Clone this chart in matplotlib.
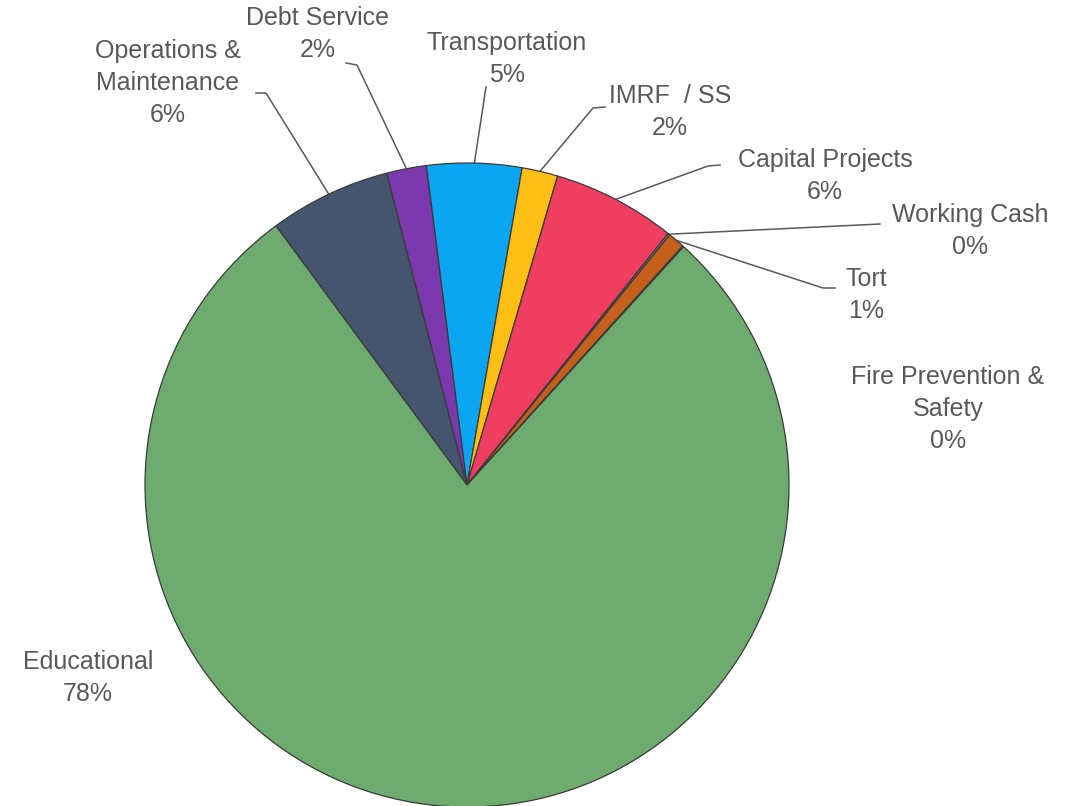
import numpy as np
import matplotlib
matplotlib.use("Agg")
import matplotlib.pyplot as plt

# ---------------- data ----------------
funds = ["Operations &\nMaintenance", "Debt Service", "Transportation", "IMRF  / SS",
         "Capital Projects", "Working Cash", "Tort", "Fire Prevention &\nSafety", "Educational"]
shares = [6.1, 2.0, 4.75, 1.8, 6.2, 0.1, 0.85, 0.05, 78.15]
colors = ["#46556E", "#7A3AAE", "#0AA6F2", "#FFBE14", "#F03E60",
          "#8C8C8C", "#C4601C", "#B0B0B0", "#6DAB6F"]

# label layout (pixel coords of figure, y measured from top)
label_pos = [(168, 83), (318, 34), (507, 59), (670, 112), (825, 176),
             (970, 231), (866, 295), (948, 409), (88, 678)]
# elbow / end of leader line next to the label, None = no line
leader_pts = [[(266, 93), (256, 93)], [(357, 65), (346, 63)], [(486, 87)],
              [(593, 108), (605, 107)], [(708, 166), (720, 165)], [(880, 224)],
              [(823, 288), (835, 288)], None, None]

W, H = 1069, 806
cx, cy, R = 467, 485, 322

fig = plt.figure(figsize=(W / 100, H / 100), dpi=100)
ax = fig.add_axes([0, 0, 1, 1])

wedges, _ = ax.pie(shares, colors=colors, startangle=126.4, counterclock=False,
                   center=(cx, H - cy), radius=R, frame=True,
                   wedgeprops=dict(edgecolor="#3a3a3a", linewidth=0.9))
ax.set_xlim(0, W)
ax.set_ylim(0, H)
ax.set_aspect("equal")
ax.axis("off")

txt_color = "#595959"
for i, w in enumerate(wedges):
    label = f"{funds[i]}\n{shares[i]:.0f}%"
    lx, ly = label_pos[i]
    ax.text(lx, H - ly, label, ha="center", va="center", fontsize=18,
            color=txt_color, family="Liberation Sans", linespacing=1.42)
    if leader_pts[i] is None:
        continue
    mid = np.deg2rad((w.theta1 + w.theta2) / 2)
    ex = cx + R * np.cos(mid)
    ey = (H - cy) + R * np.sin(mid)
    xs = [ex] + [p[0] for p in leader_pts[i]]
    ys = [ey] + [H - p[1] for p in leader_pts[i]]
    ax.plot(xs, ys, color=txt_color, linewidth=1.1, zorder=0)

fig.savefig("out.png", dpi=100)
